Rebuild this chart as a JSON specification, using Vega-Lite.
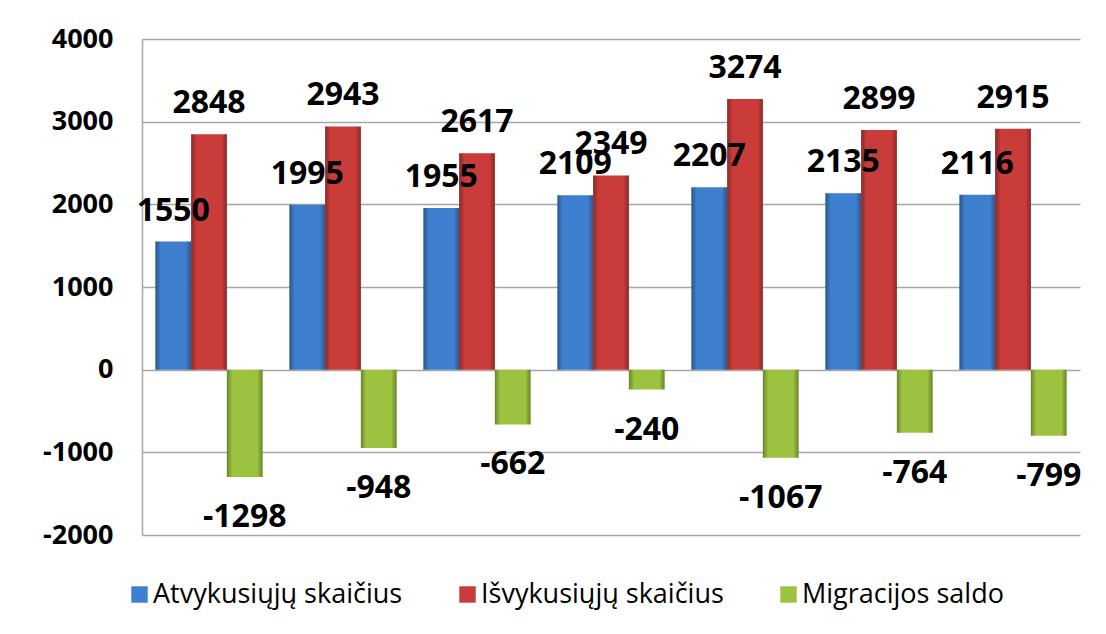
{
  "$schema": "https://vega.github.io/schema/vega-lite/v6.json",
  "width": 938,
  "height": 496,
  "autosize": {"type": "none"},
  "padding": {"left": 142, "top": 39, "right": 26, "bottom": 99},
  "background": "white",
  "config": {
    "view": {"stroke": null},
    "font": "Open Sans"
  },
  "data": {
    "values": [
      {"g": 1, "series": "Atvykusiųjų skaičius", "value": 1550},
      {"g": 2, "series": "Atvykusiųjų skaičius", "value": 1995},
      {"g": 3, "series": "Atvykusiųjų skaičius", "value": 1955},
      {"g": 4, "series": "Atvykusiųjų skaičius", "value": 2109},
      {"g": 5, "series": "Atvykusiųjų skaičius", "value": 2207},
      {"g": 6, "series": "Atvykusiųjų skaičius", "value": 2135},
      {"g": 7, "series": "Atvykusiųjų skaičius", "value": 2116},
      {"g": 1, "series": "Išvykusiųjų skaičius", "value": 2848},
      {"g": 2, "series": "Išvykusiųjų skaičius", "value": 2943},
      {"g": 3, "series": "Išvykusiųjų skaičius", "value": 2617},
      {"g": 4, "series": "Išvykusiųjų skaičius", "value": 2349},
      {"g": 5, "series": "Išvykusiųjų skaičius", "value": 3274},
      {"g": 6, "series": "Išvykusiųjų skaičius", "value": 2899},
      {"g": 7, "series": "Išvykusiųjų skaičius", "value": 2915},
      {"g": 1, "series": "Migracijos saldo", "value": -1298},
      {"g": 2, "series": "Migracijos saldo", "value": -948},
      {"g": 3, "series": "Migracijos saldo", "value": -662},
      {"g": 4, "series": "Migracijos saldo", "value": -240},
      {"g": 5, "series": "Migracijos saldo", "value": -1067},
      {"g": 6, "series": "Migracijos saldo", "value": -764},
      {"g": 7, "series": "Migracijos saldo", "value": -799}
    ]
  },
  "encoding": {
    "x": {
      "field": "g",
      "type": "ordinal",
      "axis": null,
      "scale": {"paddingInner": 0.2, "paddingOuter": 0.1}
    },
    "xOffset": {
      "field": "series",
      "type": "nominal",
      "sort": ["Atvykusiųjų skaičius", "Išvykusiųjų skaičius", "Migracijos saldo"],
      "scale": {"paddingInner": 0, "paddingOuter": 0}
    },
    "y": {
      "field": "value",
      "type": "quantitative",
      "title": null,
      "scale": {"domain": [-2000, 4000], "nice": false, "zero": false},
      "axis": {
        "values": [-2000, -1000, 0, 1000, 2000, 3000, 4000],
        "labelExpr": "'' + datum.value",
        "ticks": false,
        "labelFont": "Open Sans",
        "labelFontWeight": "bold",
        "labelFontSize": 27,
        "labelColor": "#000000",
        "labelPadding": 29,
        "domainColor": "#a6a6a6",
        "domainWidth": 1.5,
        "gridColor": "#a6a6a6",
        "gridWidth": 1.5
      }
    }
  },
  "layer": [
    {
      "mark": {"type": "bar"},
      "encoding": {
        "color": {
          "field": "series",
          "type": "nominal",
          "title": null,
          "scale": {
            "domain": ["Atvykusiųjų skaičius", "Išvykusiųjų skaičius", "Migracijos saldo"],
            "range": ["#3f7fcf", "#c93c39", "#9bc33f"]
          },
          "legend": {
            "orient": "none",
            "legendX": -16,
            "legendY": 542,
            "direction": "horizontal",
            "gridAlign": "none",
            "symbolType": "square",
            "symbolSize": 270,
            "symbolStrokeWidth": 0,
            "labelFont": "Open Sans",
            "labelFontSize": 27,
            "labelColor": "#000000",
            "labelOffset": 0,
            "columnPadding": 51,
            "labelLimit": 400
          }
        }
      }
    },
    {
      "mark": {
        "type": "bar",
        "color": {
          "gradient": "linear", "x1": 0, "x2": 1, "y1": 0, "y2": 0,
          "stops": [
            {"offset": 0, "color": "rgba(0,0,0,0.32)"},
            {"offset": 0.15, "color": "rgba(0,0,0,0)"},
            {"offset": 0.85, "color": "rgba(0,0,0,0)"},
            {"offset": 1, "color": "rgba(0,0,0,0.32)"}
          ]
        }
      },
      "encoding": {}
    },
    {
      "transform": [{"filter": "datum.value >= 0"}],
      "mark": {"type": "text", "dy": -21, "baseline": "alphabetic", "font": "Open Sans", "fontWeight": "bold", "fontSize": 32, "color": "#000000"},
      "encoding": {"text": {"field": "value", "type": "nominal"}}
    },
    {
      "transform": [{"filter": "datum.value < 0"}],
      "mark": {"type": "text", "dy": 50, "baseline": "alphabetic", "font": "Open Sans", "fontWeight": "bold", "fontSize": 32, "color": "#000000"},
      "encoding": {"text": {"field": "value", "type": "nominal"}}
    }
  ]
}
